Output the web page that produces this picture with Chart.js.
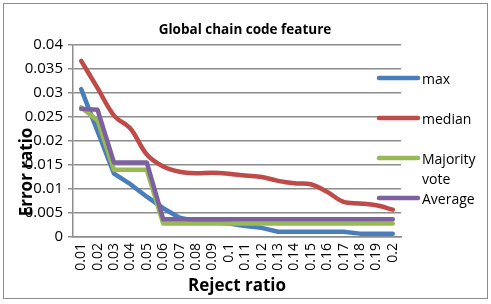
<!DOCTYPE html>
<html>
<head>
<meta charset="utf-8">
<script src="https://cdn.jsdelivr.net/npm/chart.js@4"></script>
<style>
  html, body { margin: 0; padding: 0; background: #fff; }
  #wrap { width: 491px; height: 304px; }
</style>
</head>
<body>
<div id="wrap"><canvas id="chart" width="491" height="304"></canvas></div>
<script>
// data
const rejectRatios = ['0.01', '0.02', '0.03', '0.04', '0.05', '0.06', '0.07', '0.08', '0.09', '0.1',
                      '0.11', '0.12', '0.13', '0.14', '0.15', '0.16', '0.17', '0.18', '0.19', '0.2'];
const maxErr      = [0.0308, 0.022, 0.0132, 0.011, 0.0084, 0.006, 0.004, 0.0033, 0.003, 0.0028,
                     0.0023, 0.0019, 0.0011, 0.0011, 0.0011, 0.0011, 0.0011, 0.0007, 0.0007, 0.0007];
const medianErr   = [0.0367, 0.031, 0.0253, 0.0226, 0.0172, 0.0147, 0.0136, 0.0133, 0.0134, 0.0132,
                     0.0128, 0.0125, 0.0117, 0.0112, 0.011, 0.0094, 0.0073, 0.007, 0.0066, 0.0057];
const majorityErr = [0.027, 0.0243, 0.014, 0.014, 0.014, 0.0028, 0.0028, 0.0028, 0.0028, 0.0028,
                     0.0028, 0.0028, 0.0028, 0.0028, 0.0028, 0.0028, 0.0028, 0.0028, 0.0028, 0.0028];
const averageErr  = [0.0267, 0.0265, 0.0155, 0.0155, 0.0155, 0.0037, 0.0037, 0.0037, 0.0037, 0.0037,
                     0.0037, 0.0037, 0.0037, 0.0037, 0.0037, 0.0037, 0.0037, 0.0037, 0.0037, 0.0037];
const yTickLabels = ['0', '0.005', '0.01', '0.015', '0.02', '0.025', '0.03', '0.035', '0.04'];
const seriesNames = ['max', 'median', 'Majority vote', 'Average'];

const colors = ['#4a7ebb', '#be4b48', '#98b954', '#7d60a0'];
const FONT = '"Open Sans", "Liberation Sans", sans-serif';

// title, axis titles, legend and outer border
const decor = {
    id: 'decor',
    afterDraw(chart) {
        const c = chart.ctx;
        c.save();
        c.strokeStyle = '#8c8c8c';
        c.lineWidth = 1;
        c.strokeRect(3.5, 3.5, 484, 295);

        c.fillStyle = '#000';
        c.textAlign = 'center';
        c.textBaseline = 'middle';
        c.font = 'bold 13.5px ' + FONT;
        c.fillText('Global chain code feature', 245, 30);

        c.font = 'bold 17px ' + FONT;
        c.fillText('Reject ratio', 237, 286);
        c.save();
        c.translate(27, 172);
        c.rotate(-Math.PI / 2);
        c.fillText('Error ratio', 0, 0);
        c.restore();

        // legend
        const rows = [
            { y: 78, lines: ['max'] },
            { y: 118, lines: ['median'] },
            { y: 158, lines: ['Majority', 'vote'] },
            { y: 198, lines: ['Average'] }
        ];
        c.font = '14px ' + FONT;
        c.textAlign = 'left';
        c.lineCap = 'round';
        c.lineWidth = 4.5;
        rows.forEach((r, i) => {
            c.strokeStyle = colors[i];
            c.beginPath();
            c.moveTo(379, r.y);
            c.lineTo(418, r.y);
            c.stroke();
            c.fillStyle = '#000';
            r.lines.forEach((t, k) => c.fillText(t, 422, r.y + 2 + k * 20));
        });
        c.restore();
    }
};

const series = [maxErr, medianErr, majorityErr, averageErr];

new Chart(document.getElementById('chart'), {
    type: 'line',
    data: {
        labels: rejectRatios,
        datasets: series.map((vals, i) => ({
            label: seriesNames[i],
            data: vals,
            borderColor: colors[i],
            backgroundColor: colors[i],
            borderWidth: 4.5,
            pointRadius: 0,
            tension: i === 1 ? 0.35 : 0,
            borderJoinStyle: 'round',
            borderCapStyle: 'round',
            order: 4 - i
        }))
    },
    options: {
        responsive: false,
        animation: false,
        layout: { padding: { left: 0, right: 90, top: 45, bottom: 0 } },
        plugins: {
            legend: { display: false },
            tooltip: { enabled: false }
        },
        scales: {
            x: {
                offset: true,
                grid: { display: false, drawTicks: false },
                border: { display: true, color: '#8c8c8c', width: 1.5 },
                ticks: {
                    color: '#000',
                    font: { family: FONT, size: 14 },
                    minRotation: 90,
                    maxRotation: 90,
                    autoSkip: false,
                    padding: 6
                },
                afterFit(scale) { scale.height = 67; }
            },
            y: {
                min: 0,
                max: 0.04,
                grid: { color: '#8c8c8c', lineWidth: 1.5, tickLength: 5 },
                border: { display: true, color: '#8c8c8c', width: 1.5 },
                ticks: {
                    stepSize: 0.005,
                    color: '#000',
                    font: { family: FONT, size: 15 },
                    padding: 5,
                    callback: (v, idx) => yTickLabels[idx]
                },
                afterFit(scale) { scale.width = 73; }
            }
        }
    },
    plugins: [decor]
});
</script>
</body>
</html>
